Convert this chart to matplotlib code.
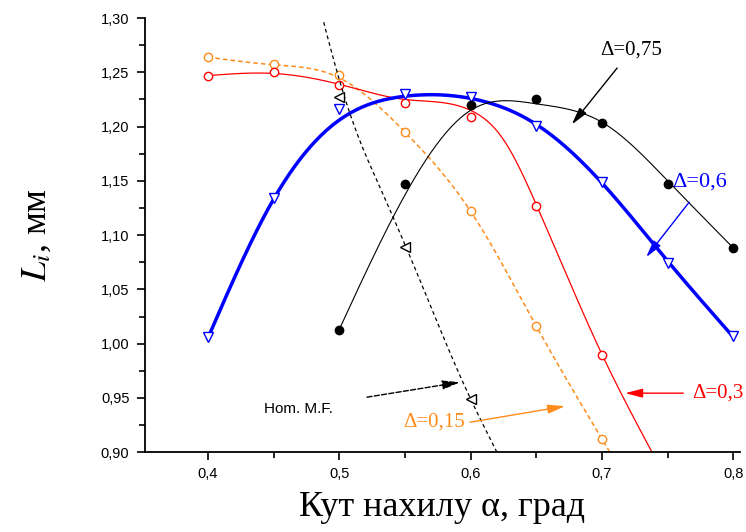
import numpy as np
import matplotlib
matplotlib.use("Agg")
import matplotlib.pyplot as plt
from matplotlib.ticker import FuncFormatter, MultipleLocator

# markers
alpha = [0.40, 0.45, 0.50, 0.55, 0.60, 0.65, 0.70, 0.75, 0.80]
d015 = [1.264, 1.258, 1.248, 1.195, 1.122, 1.016, 0.912]
d03 = [1.247, 1.250, 1.238, 1.222, 1.209, 1.127, 0.990]
d06 = [1.006, 1.134, 1.216, 1.230, 1.227, 1.201, 1.149, 1.074, 1.007]
d075 = [1.013, 1.147, 1.220, 1.225, 1.203, 1.147, 1.088]   # from 0.5 on
hom_x = [0.50, 0.55, 0.60]
hom_y = [1.227, 1.089, 0.949]

# fitted curves
c015_x = [0.40, 0.45, 0.50, 0.55, 0.60, 0.65, 0.70]
c015_y = [1.264, 1.257, 1.245, 1.195, 1.122, 1.016, 0.912]
c03_x = [0.40, 0.45, 0.50, 0.55, 0.60, 0.625, 0.65, 0.70, 0.738]
c03_y = [1.247, 1.249, 1.239, 1.225, 1.215, 1.188, 1.128, 0.990, 0.900]
c06_y = [1.005, 1.133, 1.206, 1.228, 1.226, 1.202, 1.148, 1.076, 1.006]
c075_y = [1.013, 1.137, 1.215, 1.221, 1.204, 1.150, 1.088]
hom_line_x = [0.488, 0.518, 0.531, 0.564, 0.600, 0.620]
hom_line_y = [1.297, 1.180, 1.144, 1.051, 0.949, 0.900]

serif = "Liberation Serif"
sans = "Liberation Sans"
plt.rcParams["mathtext.fontset"] = "stix"

fig = plt.figure(figsize=(7.46, 5.32), dpi=100)
ax = fig.add_axes([0.194, 0.150, 0.798, 0.816])


def spline(xs, ys, x0, x1):
    # natural cubic spline, straight past the ends
    xs = np.asarray(xs, float)
    ys = np.asarray(ys, float)
    n = len(xs)
    h = np.diff(xs)
    A = np.zeros((n, n))
    b = np.zeros(n)
    A[0, 0] = A[-1, -1] = 1
    for i in range(1, n - 1):
        A[i, i - 1] = h[i - 1]
        A[i, i] = 2 * (h[i - 1] + h[i])
        A[i, i + 1] = h[i]
        b[i] = 6 * ((ys[i + 1] - ys[i]) / h[i] - (ys[i] - ys[i - 1]) / h[i - 1])
    m = np.linalg.solve(A, b)
    xx = np.linspace(x0, x1, 400)
    yy = np.empty_like(xx)
    for k, x in enumerate(xx):
        if x <= xs[0]:
            s = (ys[1] - ys[0]) / h[0] - h[0] * (2 * m[0] + m[1]) / 6
            yy[k] = ys[0] + s * (x - xs[0])
        elif x >= xs[-1]:
            s = (ys[-1] - ys[-2]) / h[-1] + h[-1] * (m[-2] + 2 * m[-1]) / 6
            yy[k] = ys[-1] + s * (x - xs[-1])
        else:
            i = min(np.searchsorted(xs, x) - 1, n - 2)
            t = x - xs[i]
            u = xs[i + 1] - x
            yy[k] = (m[i] * u**3 + m[i + 1] * t**3) / (6 * h[i]) \
                + (ys[i] / h[i] - m[i] * h[i] / 6) * u \
                + (ys[i + 1] / h[i] - m[i + 1] * h[i] / 6) * t
    return xx, yy


orange = "#ff8c1a"
blue = "#0000ff"

xx, yy = spline(c015_x, c015_y, 0.40, 0.72)
ax.plot(xx, yy, color=orange, lw=1.1, ls=(0, (3, 2)))
ax.plot(alpha[:len(d015)], d015, "o", mfc="white", mec=orange, ms=6, mew=1)

xx, yy = spline(c03_x, c03_y, 0.40, 0.76)
ax.plot(xx, yy, color="red", lw=0.9)
ax.plot(alpha[:len(d03)], d03, "o", mfc="white", mec="red", ms=6, mew=1)

xx, yy = spline(alpha, c06_y, 0.40, 0.80)
ax.plot(xx, yy, color=blue, lw=2.5)
ax.plot(alpha, d06, "v", mfc="white", mec=blue, ms=7, mew=1)

xx, yy = spline(alpha[2:], c075_y, 0.50, 0.80)
ax.plot(xx, yy, color="black", lw=0.8)
ax.plot(alpha[2:], d075, "o", color="black", ms=6)

# Hom. M.F. line: x as a smooth function of y
yy, xx = spline(hom_line_y[::-1], hom_line_x[::-1], 0.90, 1.297)
ax.plot(xx, yy, color="black", lw=0.9, ls=(0, (3, 2.5)))
ax.plot(hom_x, hom_y, "<", mfc="white", mec="black", ms=7, mew=1)


def label(txt, xy_text, tail, head, color, size=15, family=serif, ls="-"):
    ax.text(xy_text[0], xy_text[1], txt, color=color, fontsize=size,
            family=family, ha="center", va="center")
    ax.annotate("", xy=head, xytext=tail,
                arrowprops=dict(arrowstyle="-|>,head_length=0.7,head_width=0.18",
                                color=color, lw=1, ls=ls,
                                shrinkA=0, shrinkB=0, mutation_scale=15))


label("\u0394=0,75", (0.722, 1.2705), (0.7115, 1.254), (0.677, 1.202), "black")
label("\u0394=0,6", (0.7745, 1.149), (0.7663, 1.1304), (0.7336, 1.0797), blue, size=16)
label("\u0394=0,3", (0.788, 0.9544), (0.7618, 0.9544), (0.7176, 0.9544), "red")
label("\u0394=0,15", (0.572, 0.9276), (0.5995, 0.9276), (0.6719, 0.9424), orange)
label("Hom. M.F.", (0.4693, 0.9396), (0.5211, 0.9507), (0.5919, 0.9645), "black",
      size=11, family=sans, ls="--")

ax.set_xlim(0.352, 0.805)
ax.set_ylim(0.90, 1.30)
ax.spines["top"].set_visible(False)
ax.spines["right"].set_visible(False)
for s in ("left", "bottom"):
    ax.spines[s].set_linewidth(1.3)

ax.xaxis.set_major_locator(MultipleLocator(0.1))
ax.xaxis.set_minor_locator(MultipleLocator(0.05))
ax.yaxis.set_major_locator(MultipleLocator(0.05))
ax.yaxis.set_minor_locator(MultipleLocator(0.025))
ax.xaxis.set_major_formatter(FuncFormatter(lambda v, p: f"{v:.1f}".replace(".", ",")))
ax.yaxis.set_major_formatter(FuncFormatter(lambda v, p: f"{v:.2f}".replace(".", ",")))
ax.tick_params(which="major", direction="out", length=6, width=1.2, labelsize=10.5, pad=5)
ax.tick_params(which="minor", direction="out", length=4, width=1.2)
for t in ax.get_xticklabels() + ax.get_yticklabels():
    t.set_family(sans)

ax.set_xlabel("Кут нахилу α, град", family=serif, fontsize=26, labelpad=7)
ax.set_ylabel("$L_i$, мм", family=serif, fontsize=26, labelpad=34)

fig.savefig("out.png", dpi=100)
